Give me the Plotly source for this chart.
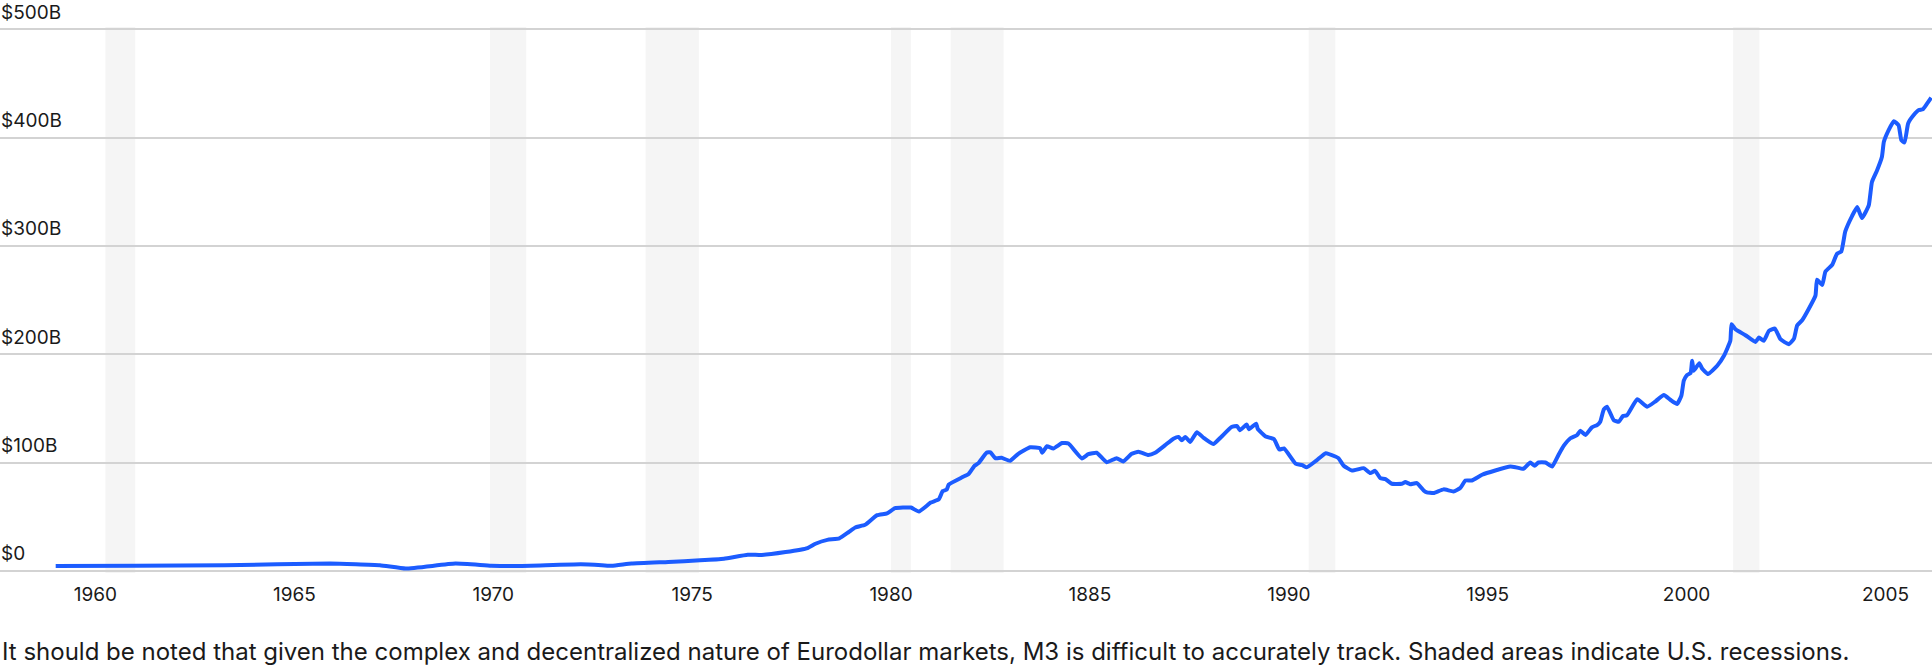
import plotly.graph_objects as go

# Eurodollar M3 series (decimal years, $B)
years = [1959.0, 1961.0, 1963.25, 1965.9, 1967.15, 1967.8, 1969.05, 1969.95, 1970.65, 1972.2,
         1972.73, 1972.98, 1973.48, 1974.4, 1975.2, 1975.8, 1976.4, 1976.75, 1977.35, 1977.9,
         1978.1, 1978.4, 1978.7, 1978.93, 1979.1, 1979.35, 1979.65, 1979.9, 1980.1, 1980.5,
         1980.7, 1981.0, 1981.2, 1981.3, 1981.4, 1981.45, 1981.8, 1981.95, 1982.1, 1982.2,
         1982.4, 1982.5, 1982.62, 1982.78, 1982.99, 1983.2, 1983.5, 1983.75, 1983.8, 1983.92,
         1984.08, 1984.3, 1984.46, 1984.8, 1984.96, 1985.17, 1985.42, 1985.67, 1985.84, 1986.05,
         1986.22, 1986.47, 1986.64, 1986.89, 1987.1, 1987.23, 1987.31, 1987.4, 1987.52, 1987.69,
         1987.86, 1988.1, 1988.3, 1988.56, 1988.7, 1988.77, 1988.94, 1989.0, 1989.18, 1989.22,
         1989.42, 1989.63, 1989.76, 1989.88, 1990.17, 1990.34, 1990.45, 1990.7, 1990.93, 1991.17,
         1991.25, 1991.38, 1991.59, 1991.88, 1992.05, 1992.17, 1992.3, 1992.43, 1992.59, 1992.84,
         1992.93, 1993.05, 1993.22, 1993.39, 1993.47, 1993.64, 1993.89, 1994.14, 1994.31, 1994.44,
         1994.6, 1994.86, 1995.19, 1995.57, 1995.7, 1995.9, 1996.07, 1996.18, 1996.28, 1996.45,
         1996.62, 1996.78, 1996.91, 1997.08, 1997.25, 1997.33, 1997.46, 1997.62, 1997.75, 1997.83,
         1997.92, 1998.0, 1998.17, 1998.3, 1998.4, 1998.5, 1998.76, 1999.01, 1999.22, 1999.43,
         1999.6, 1999.76, 1999.87, 1999.93, 2000.01, 2000.1, 2000.14, 2000.18, 2000.32, 2000.39,
         2000.54, 2000.77, 2000.94, 2001.1, 2001.13, 2001.23, 2001.48, 2001.73, 2001.82, 2001.94,
         2002.07, 2002.22, 2002.36, 2002.57, 2002.7, 2002.78, 2002.9, 2003.07, 2003.24, 2003.28,
         2003.41, 2003.49, 2003.66, 2003.78, 2003.89, 2003.99, 2004.16, 2004.29, 2004.41, 2004.58,
         2004.66, 2004.79, 2004.91, 2004.96, 2005.08, 2005.21, 2005.33, 2005.4, 2005.48, 2005.57,
         2005.71, 2005.84, 2005.94, 2006.05, 2006.15]
values = [4.5, 4.8, 5.2, 6.7, 5.2, 2.1, 6.7, 4.8, 4.5, 6.0,
          5.2, 4.6, 6.7, 8.2, 9.7, 11.2, 14.9, 14.6, 17.3, 21,
          25, 28.6, 30, 35.6, 40, 42.5, 51.4, 53, 57.8, 58.4,
          54.7, 63, 66, 73.6, 75, 79.6, 86.6, 89.4, 97, 99.4,
          109, 109.4, 104, 104.3, 101.5, 108, 114, 113, 109, 115,
          113, 118, 117.5, 103.7, 107.7, 109, 100.3, 104, 101, 108,
          110, 107, 109, 116, 122, 123.6, 120.5, 123.6, 119, 128,
          122.7, 117, 123.6, 132.8, 133.7, 129.7, 135, 130.7, 135.9, 131,
          124, 121.5, 112, 113, 99, 97.5, 95.5, 102, 108.6, 105.5,
          104, 97, 92.6, 94.8, 90.2, 92.3, 85.6, 84.7, 80.4, 80.4,
          81.9, 80, 81, 74.2, 72.4, 71.8, 75.2, 73.3, 76.4, 83.4,
          83.4, 88.7, 92.6, 96.3, 95.7, 94.2, 100, 97, 100, 100,
          96.3, 107, 115.3, 122.4, 125.4, 129.4, 125.4, 132.5, 134.6, 137.7,
          149, 151.5, 139, 137.7, 143, 143.5, 158.3, 151.5, 156.5, 162.3,
          157.7, 154, 161.7, 175.5, 180.7, 182.5, 193.9, 184.7, 191.7, 186.8,
          181.6, 189.3, 198.5, 212.3, 227.6, 223, 217.5, 211.3, 215.3, 212.3,
          221.5, 223.6, 213.8, 209.2, 214.4, 226.5, 231, 241.7, 254, 268.8,
          263.9, 276.2, 282.4, 292.6, 294.8, 313.3, 327.5, 335.8, 325.6, 337.3,
          359, 369.8, 382, 396, 406.8, 415, 411.4, 397.5, 395.4, 413,
          420.7, 425.3, 426, 431.5, 436.7]

# U.S. recessions (start, end as decimal years)
rec_start = [1960.25, 1969.92, 1973.83, 1980.0, 1981.5, 1990.5, 2001.17]
rec_end = [1961.0, 1970.83, 1975.17, 1980.5, 1982.83, 1991.17, 2001.83]

x_ticks = [1960, 1965, 1970, 1975, 1980, 1985, 1990, 1995, 2000, 2005]
x_labels = ['1960', '1965', '1970', '1975', '1980', '1885', '1990', '1995', '2000', '2005']
y_ticks = [0, 100, 200, 300, 400, 500]
y_labels = ['$0', '$100B', '$200B', '$300B', '$400B', '$500B']

note = ("It should be noted that given the complex and decentralized nature of Eurodollar markets, "
        "M3 is difficult to accurately track. Shaded areas indicate U.S. recessions.")

FONT = 'Inter'
TEXT = '#1a1a1a'

trace = go.Scatter(x=years, y=values, mode='lines',
                   line=dict(color='#1c5cff', width=4, shape='spline', smoothing=0.4),
                   hoverinfo='x+y')

shapes = []
for s, e in zip(rec_start, rec_end):
    shapes.append(dict(type='rect', xref='x', yref='paper', x0=s, x1=e, y0=0, y1=1,
                       fillcolor='#f5f5f5', line=dict(width=0), layer='below'))

layout = go.Layout(
    width=1932,
    height=666,
    autosize=False,
    showlegend=False,
    paper_bgcolor='white',
    plot_bgcolor='white',
    font=dict(family=FONT, size=19, color=TEXT),
    margin=dict(l=0, r=0, t=27, b=93),
    xaxis=dict(range=[1957.6, 2006.17], tickvals=x_ticks, ticktext=x_labels,
               showgrid=False, zeroline=False, showline=False, ticks='',
               ticklabelstandoff=8, automargin=False,
               tickfont=dict(family=FONT, size=19, color=TEXT)),
    yaxis=dict(range=[-2, 502], tickvals=y_ticks, ticktext=y_labels,
               showgrid=True, gridcolor='#d3d3d3', gridwidth=1.6, zeroline=False,
               showline=False, ticks='', ticklabelposition='inside',
               ticklabelshift=-17, ticklabelstandoff=-2, ticklabeloverflow='allow',
               automargin=False, tickfont=dict(family=FONT, size=19, color=TEXT)),
    shapes=shapes,
    annotations=[dict(text=note, showarrow=False, xref='paper', yref='paper',
                      x=0, y=-0.1444, xanchor='left', yanchor='middle',
                      font=dict(family=FONT, size=24, color=TEXT))],
)

fig = go.Figure(data=[trace], layout=layout)
# drop the page's default body margin so the chart sits at the window's top-left corner
fig.write_html('out.html', config={'displayModeBar': False},
               post_script="document.body.style.margin = '0';")
